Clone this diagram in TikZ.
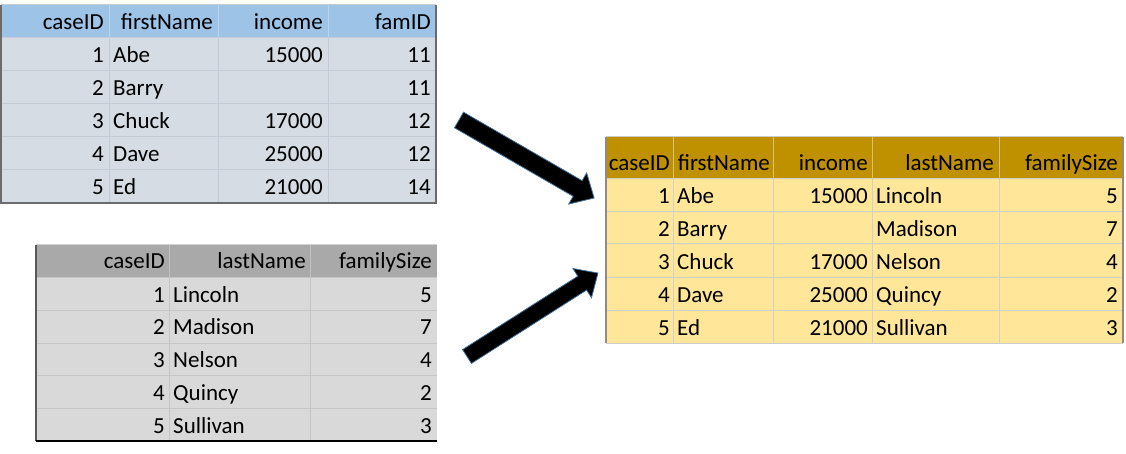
\documentclass[tikz,border=0pt]{standalone}
\usepackage{fontspec}
\setmainfont{Carlito}
\definecolor{tonehead}{HTML}{9DC3E6}
\definecolor{tonebody}{HTML}{D6DCE4}
\definecolor{tonegrid}{HTML}{C4CBD6}
\definecolor{tonehsep}{HTML}{BAD4EC}
\definecolor{ttwohead}{HTML}{A9A9A9}
\definecolor{ttwobody}{HTML}{D9D9D9}
\definecolor{ttwogrid}{HTML}{C6C6C6}
\definecolor{ttwohsep}{HTML}{C2C2C2}
\definecolor{tthrhead}{HTML}{BF9000}
\definecolor{tthrbody}{HTML}{FFE699}
\definecolor{tthrgrid}{HTML}{D2D0C8}
\definecolor{tthrhsep}{HTML}{D9C17A}
\definecolor{arrowedge}{HTML}{41719C}
\begin{document}
\begin{tikzpicture}[x=1pt,y=-1pt,
  txt/.style={inner sep=0pt, font=\fontsize{23}{27}\selectfont},
  rt/.style={txt, anchor=base east},
  lt/.style={txt, anchor=base west},
  thinline/.style={line width=1pt},
  blockarrow/.style={fill=black, draw=arrowedge, line width=0.8pt, line join=miter}]
\useasboundingbox (0,0) rectangle (1126,454);

% ---------------- Table 1 (top left) ----------------
\fill[tonehead] (1,5) rectangle (436,38);
\fill[tonebody] (1,38) rectangle (436,203);
\foreach \y in {38,71,104,137,170} \draw[thinline,tonegrid] (1,\y) -- (436,\y);
\foreach \x in {109,218,328} {
  \draw[thinline,tonehsep] (\x,5) -- (\x,38);
  \draw[thinline,tonegrid] (\x,38) -- (\x,203);
}
\draw[thinline,gray!40] (1,5) -- (436,5);
\draw[line width=1.6pt,black!58] (1,5) -- (1,203) -- (436,203) -- (436,5);
\node[rt] (ah1) at (104,30) {caseID};
\node[rt] (ah2) at (213,30) {firstName};
\node[rt] (ah3) at (323,30) {income};
\node[rt] (ah4) at (431,30) {famID};
\foreach \i/\fn/\inc/\fam [count=\k from 0] in {1/Abe/15000/11,2/Barry//11,3/Chuck/17000/12,4/Dave/25000/12,5/Ed/21000/14} {
  \pgfmathsetmacro\yb{63+33*\k}
  \node[rt] (a\k c1) at (104,\yb) {\i};
  \node[lt] (a\k c2) at (113,\yb) {\fn};
  \node[rt] (a\k c3) at (323,\yb) {\inc};
  \node[rt] (a\k c4) at (431,\yb) {\fam};
}

% ---------------- Table 2 (bottom left) ----------------
\fill[ttwohead] (36,245) rectangle (437,277);
\fill[ttwobody] (36,277) rectangle (437,441);
\foreach \y in {277,310,343,375,408} \draw[thinline,ttwogrid] (36,\y) -- (437,\y);
\foreach \x in {169,310} {
  \draw[thinline,ttwohsep] (\x,245) -- (\x,277);
  \draw[thinline,ttwogrid] (\x,277) -- (\x,441);
}
\draw[thinline,gray!35] (36,245) -- (437,245);
\draw[line width=1.6pt,black!65] (36,245) -- (36,441);
\draw[line width=1.6pt,black] (36,441) -- (437,441);
\node[rt] (bh1) at (165,269) {caseID};
\node[rt] (bh2) at (306,269) {lastName};
\node[rt] (bh3) at (432,269) {familySize};
\foreach \i/\ln/\fs [count=\k from 0] in {1/Lincoln/5,2/Madison/7,3/Nelson/4,4/Quincy/2,5/Sullivan/3} {
  \pgfmathsetmacro\yb{302+32.75*\k}
  \node[rt] (b\k c1) at (165,\yb) {\i};
  \node[lt] (b\k c2) at (173,\yb) {\ln};
  \node[rt] (b\k c3) at (432,\yb) {\fs};
}

% ---------------- Table 3 (right, merged) ----------------
\fill[tthrhead] (606,137) rectangle (1123,179);
\fill[tthrbody] (606,179) rectangle (1123,343);
\foreach \y in {179,212,244,277,310} \draw[thinline,tthrgrid] (606,\y) -- (1123,\y);
\foreach \x in {673,773,872,999} {
  \draw[thinline,tthrhsep] (\x,137) -- (\x,179);
  \draw[thinline,tthrgrid] (\x,179) -- (\x,343);
}
\draw[thinline,gray!40] (606,137) -- (1123,137);
\draw[thinline,gray!40] (606,343) -- (1123,343);
\draw[line width=1.4pt,black!45] (606,137) -- (606,343);
\draw[line width=1.4pt,black!45] (1123,137) -- (1123,343);
\node[rt] (ch1) at (670,171) {caseID};
\node[rt] (ch2) at (770,171) {firstName};
\node[rt] (ch3) at (868,171) {income};
\node[rt] (ch4) at (994,171) {lastName};
\node[rt] (ch5) at (1118,171) {familySize};
\foreach \i/\fn/\inc/\ln/\fs [count=\k from 0] in {1/Abe/15000/Lincoln/5,2/Barry//Madison/7,3/Chuck/17000/Nelson/4,4/Dave/25000/Quincy/2,5/Ed/21000/Sullivan/3} {
  \pgfmathsetmacro\yb{204+32.75*\k}
  \node[rt] (c\k c1) at (670,\yb) {\i};
  \node[lt] (c\k c2) at (677,\yb) {\fn};
  \node[rt] (c\k c3) at (868,\yb) {\inc};
  \node[lt] (c\k c4) at (876,\yb) {\ln};
  \node[rt] (c\k c5) at (1118,\yb) {\fs};
}

% ---------------- Block arrows ----------------
\begin{scope}[shift={(459,120)}, rotate=-30]
  \draw[blockarrow] (0,-9) -- (137,-9) -- (137,-18) -- (156,0) -- (137,18) -- (137,9) -- (0,9) -- cycle;
\end{scope}
\begin{scope}[shift={(467,356.5)}, rotate=32.5]
  \draw[blockarrow] (0,-8.2) -- (136.6,-8.2) -- (136.6,-17.3) -- (155.3,0) -- (136.6,17.3) -- (136.6,8.2) -- (0,8.2) -- cycle;
\end{scope}
\end{tikzpicture}
\end{document}
